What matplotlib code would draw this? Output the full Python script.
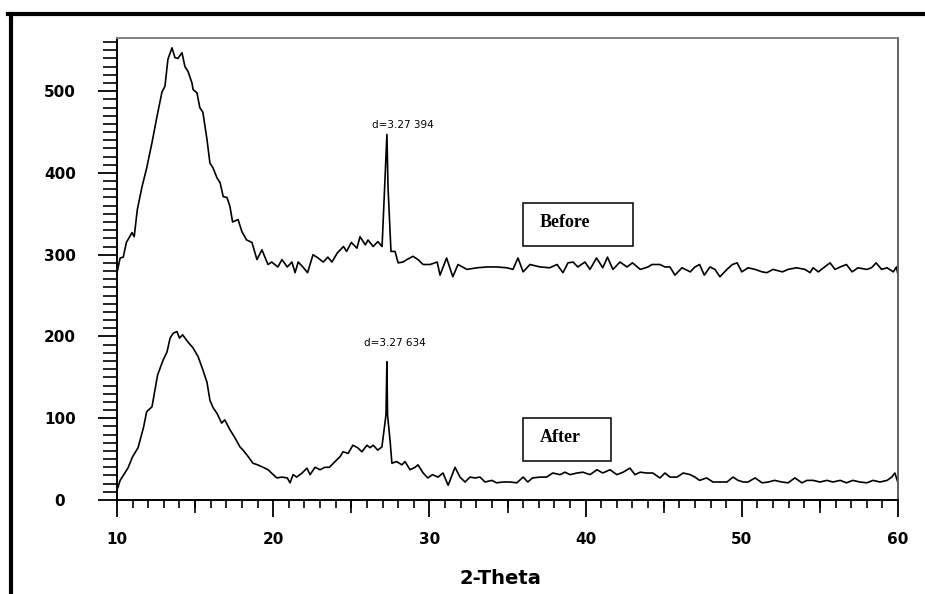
import matplotlib
matplotlib.use("Agg")
import matplotlib.pyplot as plt
from matplotlib.patches import Rectangle
from matplotlib.lines import Line2D

# 2-theta / intensity, "Before" curve
before_x = [10.0, 10.2, 10.4, 10.6, 10.96, 11.1, 11.3, 11.6, 11.9, 12.24, 12.56, 12.88, 13.07, 13.26,
            13.52, 13.71, 13.9, 14.16, 14.35, 14.55, 14.8, 14.87, 15.12, 15.3, 15.5, 15.76, 15.95,
            16.15, 16.4, 16.6, 16.8, 17.04, 17.23, 17.4, 17.75, 18.0, 18.3, 18.64, 18.96, 19.28,
            19.47, 19.67, 19.9, 20.3, 20.56, 20.9, 21.2, 21.4, 21.6, 21.9, 22.2, 22.55, 22.87, 23.2,
            23.5, 23.76, 24.1, 24.5, 24.7, 25.0, 25.36, 25.56, 25.9, 26.07, 26.4, 26.7, 26.97,
            27.16, 27.28, 27.35, 27.54, 27.8, 28.0, 28.3, 28.56, 28.95, 29.27, 29.6, 30.04, 30.5,
            30.68, 31.1, 31.5, 31.83, 32.4, 33.05, 33.7, 34.3, 34.97, 35.35, 35.67, 36.0, 36.44,
            37.08, 37.7, 38.17, 38.55, 38.87, 39.2, 39.5, 39.96, 40.28, 40.7, 41.1, 41.4, 41.75,
            42.2, 42.65, 43.0, 43.5, 44.0, 44.25, 44.76, 45.08, 45.4, 45.72, 46.17, 46.7, 47.0,
            47.3, 47.6, 47.96, 48.28, 48.6, 49.05, 49.4, 49.7, 50.0, 50.4, 50.85, 51.3, 51.6, 52.0,
            52.6, 52.96, 53.5, 54.05, 54.37, 54.56, 54.9, 55.3, 55.65, 55.97, 56.3, 56.7, 57.06,
            57.44, 58.0, 58.3, 58.6, 58.95, 59.3, 59.7, 59.9, 60.0]
before_y = [278, 296, 297, 315, 327, 322, 355, 383, 406, 437, 469, 499, 506, 539,
            553, 541, 540, 547, 530, 524, 510, 502, 498, 480, 474, 441, 412,
            406, 394, 388, 371, 370, 359, 340, 343, 328, 318, 315, 294, 306,
            297, 288, 291, 285, 294, 285, 291, 278, 291, 285, 278, 300, 296, 291,
            297, 291, 302, 310, 304, 315, 308, 322, 312, 318, 310, 316, 310,
            395, 447, 383, 304, 304, 290, 291, 294, 298, 294, 288, 288, 291,
            275, 296, 273, 288, 282, 284, 285, 285, 284, 282, 296, 279, 288,
            285, 284, 288, 278, 290, 291, 285, 291, 282, 296, 284, 297, 282,
            291, 285, 290, 282, 285, 288, 288, 285, 285, 275, 284, 279, 285,
            288, 275, 285, 282, 273, 282, 288, 290, 279, 284, 282, 279, 278, 282,
            279, 282, 284, 282, 278, 284, 279, 285, 290, 282, 285, 288, 279,
            284, 282, 284, 290, 282, 284, 279, 285, 275]

# "After" curve
after_x = [10.0, 10.2, 10.5, 10.7, 11.0, 11.35, 11.7, 11.9, 12.24, 12.43, 12.6, 12.95, 13.2, 13.4,
           13.6, 13.84, 14.0, 14.2, 14.55, 14.87, 15.2, 15.5, 15.76, 15.95, 16.15, 16.4, 16.7,
           16.9, 17.23, 17.55, 17.87, 18.07, 18.4, 18.7, 19.0, 19.35, 19.67, 20.0, 20.24, 20.56,
           20.9, 21.08, 21.27, 21.5, 21.85, 22.16, 22.36, 22.68, 23.0, 23.3, 23.6, 23.96, 24.28,
           24.47, 24.8, 25.1, 25.4, 25.68, 26.0, 26.2, 26.4, 26.7, 26.96, 27.1, 27.22, 27.28,
           27.32, 27.48, 27.6, 27.9, 28.24, 28.44, 28.76, 29.08, 29.27, 29.6, 29.9, 30.2, 30.55,
           30.87, 31.2, 31.64, 31.96, 32.28, 32.6, 32.92, 33.24, 33.56, 34.0, 34.3, 34.7, 35.16,
           35.6, 36.0, 36.3, 36.6, 37.08, 37.5, 37.9, 38.36, 38.68, 39.0, 39.45, 39.83, 40.28,
           40.73, 41.1, 41.56, 42.0, 42.4, 42.84, 43.16, 43.5, 43.9, 44.3, 44.76, 45.08, 45.4,
           45.85, 46.25, 46.7, 47.0, 47.3, 47.75, 48.15, 48.6, 49.05, 49.44, 49.76, 50.1, 50.4,
           50.85, 51.3, 51.7, 52.1, 52.56, 52.96, 53.4, 53.85, 54.17, 54.56, 55.0, 55.45, 55.84,
           56.3, 56.7, 57.1, 57.56, 58.0, 58.4, 58.85, 59.3, 59.6, 59.8, 60.0]
after_y = [12, 24, 33, 39, 53, 64, 89, 108, 114, 135, 153, 171, 181, 198,
           204, 206, 198, 202, 193, 186, 175, 159, 144, 122, 113, 106, 94,
           98, 86, 76, 65, 61, 53, 45, 43, 40, 37, 31, 27, 28,
           27, 21, 31, 28, 33, 39, 31, 40, 37, 40, 40, 47, 53,
           59, 57, 67, 64, 59, 67, 64, 67, 61, 65, 86, 104, 169,
           104, 73, 45, 47, 43, 47, 37, 40, 43, 33, 27, 31, 28,
           33, 18, 40, 28, 22, 28, 27, 28, 22, 24, 21, 22, 22,
           21, 28, 22, 27, 28, 28, 33, 31, 34, 31, 33, 34, 31,
           37, 33, 37, 31, 34, 39, 31, 34, 33, 33, 27, 33, 28,
           28, 33, 31, 28, 24, 27, 22, 22, 22, 28, 24, 22, 22,
           27, 21, 22, 24, 22, 21, 27, 21, 24, 24, 22, 24, 22,
           24, 21, 24, 22, 21, 24, 22, 24, 28, 33, 21]

x_major = [10, 20, 30, 40, 50, 60]
x_mid = [15, 25, 35, 45, 55]
y_major = [0, 100, 200, 300, 400, 500]

fig = plt.figure(figsize=(9.25, 5.94), dpi=100)
ax = fig.add_axes([117 / 925, 1 - 500 / 594, 781 / 925, 462 / 594])

ax.plot(before_x, before_y, color="black", lw=1.2)
ax.plot(after_x, after_y, color="black", lw=1.2)

ax.set_xlim(10, 60)
ax.set_ylim(0, 565)

ax.set_xticks(x_major)
ax.set_xticks(range(10, 61), minor=True)
ax.set_yticks(y_major)
ax.set_yticks(range(0, 561, 10), minor=True)

ax.tick_params(axis="x", which="major", direction="out", length=12, width=1.3, pad=11)
ax.tick_params(axis="x", which="minor", direction="out", length=6, width=1.2)
ax.tick_params(axis="y", which="major", direction="out", length=14, width=1.3, pad=27)
ax.tick_params(axis="y", which="minor", direction="out", length=10, width=1.2)
for lab in ax.get_xticklabels() + ax.get_yticklabels():
    lab.set_fontweight("bold")
    lab.set_fontsize(11)
for lab in ax.get_yticklabels():
    lab.set_horizontalalignment("center")

# medium ticks at the 5s
sec = ax.secondary_xaxis("bottom")
sec.set_xticks(x_mid)
sec.set_xticklabels([])
sec.tick_params(direction="out", length=9.5, width=1.2)
sec.spines["bottom"].set_visible(False)

ax.spines["left"].set_linewidth(1.4)
ax.spines["bottom"].set_linewidth(1.4)
ax.spines["top"].set_color("#808080")
ax.spines["right"].set_color("#606060")
ax.spines["top"].set_linewidth(1.4)
ax.spines["right"].set_linewidth(1.4)

ax.text(28.3, 458, "d=3.27 394", fontsize=7.5, ha="center", va="center")
ax.text(27.8, 192, "d=3.27 634", fontsize=7.5, ha="center", va="center")

ax.add_patch(Rectangle((36.0, 311), 7.03, 52.5, fill=False, lw=1.1, ec="black"))
ax.text(37.08, 339, "Before", family="Liberation Serif", fontweight="bold", fontsize=13, va="center")
ax.add_patch(Rectangle((36.0, 47.7), 5.62, 52.7, fill=False, lw=1.1, ec="black"))
ax.text(37.08, 75.9, "After", family="Liberation Serif", fontweight="bold", fontsize=13, va="center")

fig.text(500 / 925, 1 - 578 / 594, "2-Theta", fontsize=14, fontweight="bold", ha="center", va="center")

# picture frame (top and left edges)
fig.add_artist(Line2D([8 / 925, 1], [1 - 14 / 594, 1 - 14 / 594], color="black", lw=3, transform=fig.transFigure))
fig.add_artist(Line2D([10.5 / 925, 10.5 / 925], [0, 1 - 14 / 594], color="black", lw=3, transform=fig.transFigure))

fig.savefig("out.png", dpi=100)
